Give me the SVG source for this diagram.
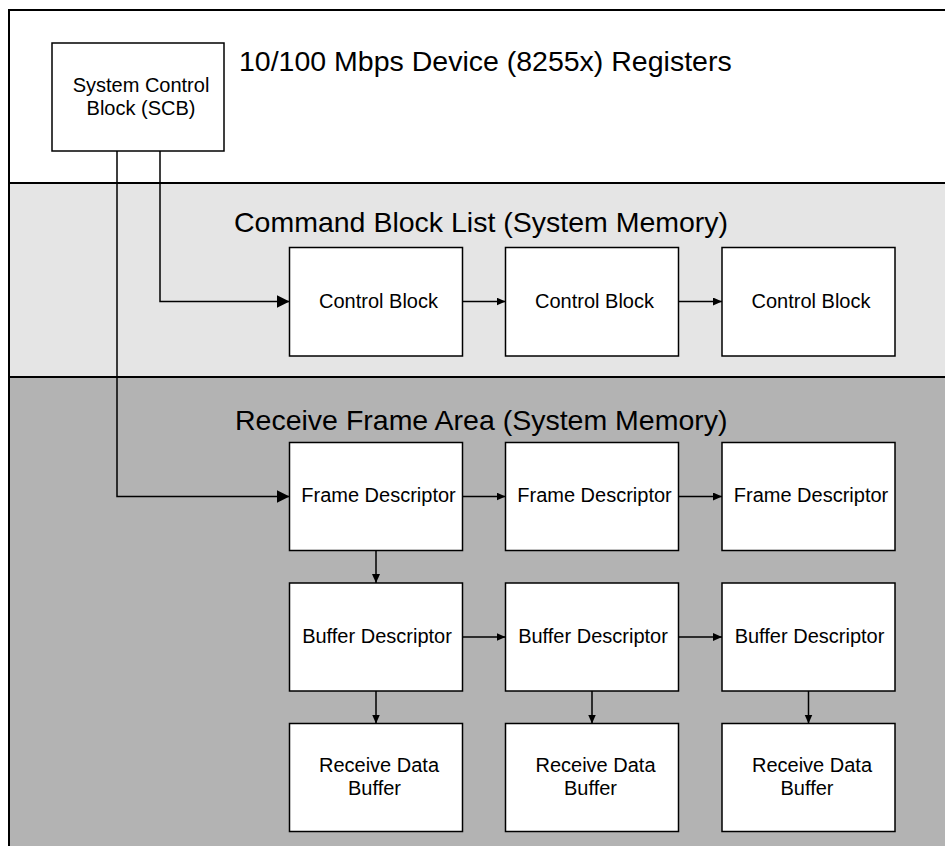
<svg xmlns="http://www.w3.org/2000/svg" width="945" height="846" viewBox="0 0 945 846">
<defs>
<style>
.band{stroke:#000;stroke-width:2}
.box{fill:#fff;stroke:#000;stroke-width:1.5}
.t{font-family:"Liberation Sans",Arial,sans-serif;font-size:20px;fill:#000;text-anchor:middle}
.h{font-family:"Liberation Sans",Arial,sans-serif;font-size:28.5px;fill:#000}
.c{fill:none;stroke:#000;stroke-width:1.5}
.cs{marker-end:url(#ah)}
.cb{marker-end:url(#ahb)}
</style>
<marker id="ah" markerUnits="userSpaceOnUse" markerWidth="10" markerHeight="9" refX="9" refY="4" orient="auto">
<path d="M0,0 L9,4 L0,8 z" fill="#000"/>
</marker>
<marker id="ahb" markerUnits="userSpaceOnUse" markerWidth="14" markerHeight="14" refX="13" refY="6.5" orient="auto">
<path d="M0,0 L13,6.5 L0,13 z" fill="#000"/>
</marker>
</defs>
<g id="bands">
<rect class="band" x="9" y="10" width="1000" height="900" fill="#fff"/>
<rect class="band" x="9" y="183" width="1000" height="800" fill="#e5e5e5"/>
<rect class="band" x="9" y="377" width="1000" height="600" fill="#b3b3b3"/>
<text class="h" x="239" y="71">10/100 Mbps Device (8255x) Registers</text>
<text class="h" x="234" y="232">Command Block List (System Memory)</text>
<text class="h" x="235" y="430">Receive Frame Area (System Memory)</text>
</g>
<g id="connectors">
<path class="c cb" d="M117,151 V496.5 H289.5"/>
<path class="c cb" d="M160,151 V301.5 H289.5"/>
<path class="c cs" d="M462.5,301.5 H505.5"/>
<path class="c cs" d="M678.5,301.5 H722"/>
<path class="c cs" d="M462.5,496.5 H505.5"/>
<path class="c cs" d="M678.5,496.5 H722"/>
<path class="c cs" d="M462.5,637 H505.5"/>
<path class="c cs" d="M678.5,637 H722"/>
<path class="c cs" d="M376,550.5 V583"/>
<path class="c cs" d="M376,691 V723.5"/>
<path class="c cs" d="M592,691 V723.5"/>
<path class="c cs" d="M808.5,691 V723.5"/>
</g>
<g id="scb">
<rect class="box" x="52" y="43" width="172" height="108"/>
<text class="t" x="141" y="91.7">System Control</text>
<text class="t" x="141" y="115">Block (SCB)</text>
</g>
<g id="cb1"><rect class="box" x="289.5" y="247.5" width="173" height="108.5"/><text class="t" x="378.5" y="307.7">Control Block</text></g>
<g id="cb2"><rect class="box" x="505.5" y="247.5" width="173" height="108.5"/><text class="t" x="594.5" y="307.7">Control Block</text></g>
<g id="cb3"><rect class="box" x="722" y="247.5" width="173" height="108.5"/><text class="t" x="811" y="307.7">Control Block</text></g>
<g id="fd1"><rect class="box" x="289.5" y="442.5" width="173" height="108"/><text class="t" x="378.5" y="502.3">Frame Descriptor</text></g>
<g id="fd2"><rect class="box" x="505.5" y="442.5" width="173" height="108"/><text class="t" x="594.5" y="502.3">Frame Descriptor</text></g>
<g id="fd3"><rect class="box" x="722" y="442.5" width="173" height="108"/><text class="t" x="811" y="502.3">Frame Descriptor</text></g>
<g id="bd1"><rect class="box" x="289.5" y="583" width="173" height="108"/><text class="t" x="377" y="642.7">Buffer Descriptor</text></g>
<g id="bd2"><rect class="box" x="505.5" y="583" width="173" height="108"/><text class="t" x="593" y="642.7">Buffer Descriptor</text></g>
<g id="bd3"><rect class="box" x="722" y="583" width="173" height="108"/><text class="t" x="809.5" y="642.7">Buffer Descriptor</text></g>
<g id="rdb1"><rect class="box" x="289.5" y="723.5" width="173" height="108"/><text class="t" x="379" y="771.7">Receive Data</text><text class="t" x="374.5" y="795.3">Buffer</text></g>
<g id="rdb2"><rect class="box" x="505.5" y="723.5" width="173" height="108"/><text class="t" x="595.5" y="771.7">Receive Data</text><text class="t" x="590.5" y="795.3">Buffer</text></g>
<g id="rdb3"><rect class="box" x="722" y="723.5" width="173" height="108"/><text class="t" x="812" y="771.7">Receive Data</text><text class="t" x="807" y="795.3">Buffer</text></g>
</svg>
